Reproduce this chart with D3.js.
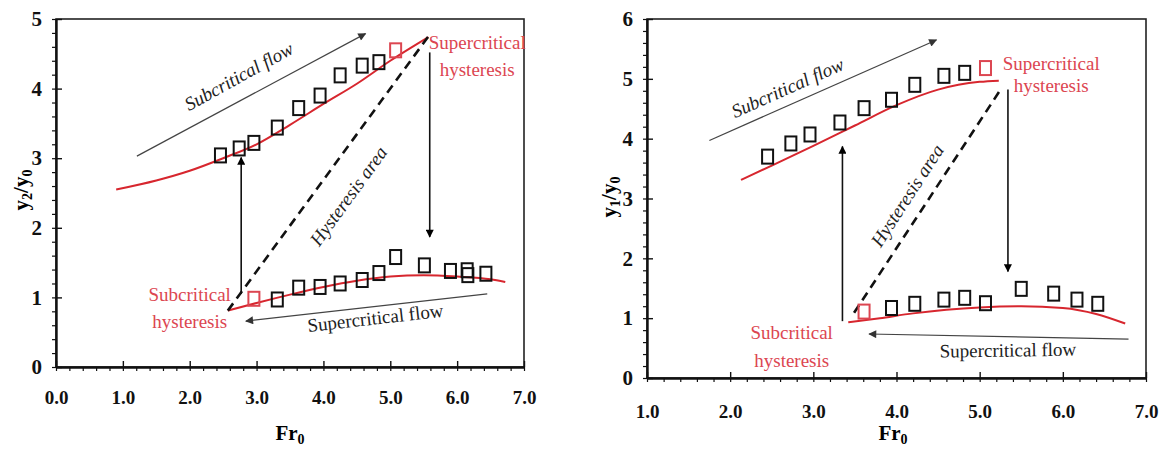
<!DOCTYPE html>
<html>
<head>
<meta charset="utf-8">
<script src="https://cdn.jsdelivr.net/npm/d3@7"></script>
<style>
  body { margin: 0; background: #fff; }
  .axis path, .axis line { stroke: #111; }
</style>
</head>
<body>
<script>
// ------ Data --------------------------------------//
// left panel: y2/y0
var leftUpperFr  = [2.46, 2.74, 2.96, 3.31, 3.63, 3.95, 4.25, 4.58, 4.83];
var leftUpperY   = [3.04, 3.14, 3.22, 3.44, 3.72, 3.90, 4.19, 4.33, 4.38];
var leftUpperRedFr = [5.08], leftUpperRedY = [4.55];
var leftLowerFr  = [3.31, 3.63, 3.95, 4.25, 4.58, 4.83, 5.08, 5.51, 5.90, 6.15, 6.16, 6.43];
var leftLowerY   = [0.97, 1.14, 1.15, 1.20, 1.25, 1.35, 1.58, 1.46, 1.38, 1.39, 1.32, 1.34];
var leftLowerRedFr = [2.96], leftLowerRedY = [0.98];
var leftCurveUpX = [0.9, 1.5, 2.0, 2.5, 3.0, 3.5, 4.0, 4.5, 5.0, 5.57];
var leftCurveUpY = [2.55, 2.68, 2.82, 3.00, 3.20, 3.48, 3.78, 4.07, 4.40, 4.74];
var leftCurveLoX = [2.57, 3.0, 3.5, 4.0, 4.5, 5.0, 5.5, 6.0, 6.5, 6.72];
var leftCurveLoY = [0.81, 0.92, 1.04, 1.15, 1.24, 1.30, 1.32, 1.30, 1.26, 1.22];

// right panel: y1/y0
var rightUpperFr = [2.45, 2.73, 2.96, 3.32, 3.61, 3.94, 4.22, 4.57, 4.82];
var rightUpperY  = [3.70, 3.92, 4.07, 4.27, 4.51, 4.65, 4.90, 5.05, 5.10];
var rightUpperRedFr = [5.07], rightUpperRedY = [5.18];
var rightLowerFr = [3.94, 4.22, 4.57, 4.82, 5.07, 5.50, 5.89, 6.17, 6.42];
var rightLowerY  = [1.17, 1.24, 1.31, 1.34, 1.25, 1.49, 1.41, 1.31, 1.24];
var rightLowerRedFr = [3.61], rightLowerRedY = [1.11];
var rightCurveUpX = [2.13, 2.5, 3.0, 3.5, 4.0, 4.5, 5.0, 5.23];
var rightCurveUpY = [3.31, 3.55, 3.88, 4.22, 4.56, 4.82, 4.95, 4.97];
var rightCurveLoX = [3.42, 3.8, 4.2, 4.6, 5.0, 5.5, 6.0, 6.4, 6.75];
var rightCurveLoY = [0.93, 1.00, 1.08, 1.14, 1.18, 1.20, 1.17, 1.07, 0.91];

var leftXTicks = [0, 1, 2, 3, 4, 5, 6, 7];
var leftYTicks = [0, 1, 2, 3, 4, 5];
var rightXTicks = [1, 2, 3, 4, 5, 6, 7];
var rightYTicks = [0, 1, 2, 3, 4, 5, 6];

// annotation anchors, in data units
var leftNotes = {
  subFlow: [[1.21, 3.03], [4.63, 4.79]],
  up: [[2.77, 1.05], [2.77, 3.01]],
  dash: [[2.57, 0.81], [5.57, 4.75]],
  down: [[5.59, 4.52], [5.59, 1.87]],
  superFlow: [[6.45, 1.05], [2.84, 0.66]],
  subFlowText: [2.75, 4.15, -29],
  areaText: [4.40, 2.44, -54],
  superFlowText: [4.78, 0.675, -6.5],
  superHyst: [6.30, 4.57, 4.18],
  subHyst: [2.0, 0.95, 0.56]
};
var rightNotes = {
  subFlow: [[1.75, 3.97], [4.48, 5.65]],
  up: [[3.35, 0.95], [3.35, 3.87]],
  dash: [[3.49, 1.09], [5.27, 4.86]],
  down: [[5.34, 4.82], [5.34, 1.78]],
  superFlow: [[6.79, 0.65], [3.67, 0.735]],
  subFlowText: [2.70, 4.82, -24],
  areaText: [4.15, 3.03, -57],
  superFlowText: [5.34, 0.43, -0.8],
  superHyst: [5.86, 5.15, 4.78],
  subHyst: [2.74, 0.65, 0.18]
};

var RED = "#d7262e", RED_TEXT = "#dc4651";
var SERIF = "'Liberation Serif', 'Times New Roman', 'DejaVu Serif', serif";

var svg = d3.select("body").append("svg")
  .attr("width", 1159).attr("height", 452)
  .attr("font-family", SERIF);
svg.append("rect").attr("width", 1159).attr("height", 452).attr("fill", "#fff");

var defs = svg.append("defs");
function head(id, color) {
  defs.append("marker").attr("id", id)
    .attr("viewBox", "0 0 10 10").attr("refX", 9).attr("refY", 5)
    .attr("markerWidth", 10).attr("markerHeight", 8)
    .attr("markerUnits", "userSpaceOnUse")
    .attr("orient", "auto")
    .append("path").attr("d", "M0,0L10,5L0,10Z").attr("fill", color);
}
head("hGray", "#333");
head("hBlack", "#000");

function zip(a, b) { return a.map((v, i) => [v, b[i]]); }

function panel(cfg) {
  var x = d3.scaleLinear().domain(cfg.xDomain).range(cfg.xRange);
  var y = d3.scaleLinear().domain(cfg.yDomain).range(cfg.yRange);
  var g = svg.append("g");

  // frame
  g.append("rect")
    .attr("x", cfg.xRange[0]).attr("y", cfg.yRange[1])
    .attr("width", cfg.xRange[1] - cfg.xRange[0])
    .attr("height", cfg.yRange[0] - cfg.yRange[1])
    .attr("fill", "none").attr("stroke", "#222").attr("stroke-width", 1.6);

  // minor ticks
  var xMinor = d3.range(cfg.xDomain[0], cfg.xDomain[1] + 0.001, 0.2);
  var yMinor = d3.range(cfg.yDomain[0], cfg.yDomain[1] + 0.001, 0.2);
  g.append("g").attr("class", "axis")
    .attr("transform", `translate(0,${cfg.yRange[0]})`)
    .call(d3.axisBottom(x).tickValues(xMinor).tickSize(4).tickFormat(""))
    .call(a => a.select(".domain").remove())
    .selectAll("line").attr("stroke-width", 1.2);
  g.append("g").attr("class", "axis")
    .attr("transform", `translate(${cfg.xRange[0]},0)`)
    .call(d3.axisLeft(y).tickValues(yMinor).tickSize(4).tickFormat(""))
    .call(a => a.select(".domain").remove())
    .selectAll("line").attr("stroke-width", 1.2);

  // major axes
  var xa = g.append("g").attr("class", "axis")
    .attr("transform", `translate(0,${cfg.yRange[0]})`)
    .call(d3.axisBottom(x).tickValues(cfg.xTicks).tickSizeInner(-6).tickSizeOuter(0)
      .tickPadding(cfg.xPad).tickFormat(d3.format(".1f")));
  xa.select(".domain").attr("stroke-width", 2.4);
  xa.selectAll(".tick line").attr("stroke-width", 1.4);
  xa.selectAll(".tick text").style("font-size", "19px");

  var ya = g.append("g").attr("class", "axis")
    .attr("transform", `translate(${cfg.xRange[0]},0)`)
    .call(d3.axisLeft(y).tickValues(cfg.yTicks).tickSizeInner(-6).tickSizeOuter(0)
      .tickPadding(14).tickFormat(d3.format("d")));
  ya.select(".domain").attr("stroke-width", 2.4);
  ya.selectAll(".tick line").attr("stroke-width", 1.4);
  ya.selectAll(".tick text").style("font-size", "21px");
  g.selectAll(".axis").attr("font-family", SERIF);
  g.selectAll(".tick text").style("font-weight", "bold").attr("fill", "#111");

  // axis titles
  var xl = g.append("text").attr("x", cfg.xLabel[0]).attr("y", cfg.xLabel[1])
    .attr("text-anchor", "middle").style("font-weight", "bold").style("font-size", "21px");
  xl.append("tspan").text("Fr");
  xl.append("tspan").text("0").attr("dy", 4).style("font-size", "14px");

  var yl = g.append("text")
    .attr("transform", `translate(${cfg.yLabel[0]},${cfg.yLabel[1]}) rotate(-90)`)
    .attr("text-anchor", "middle").style("font-weight", "bold").style("font-size", "21px");
  yl.append("tspan").text("y");
  yl.append("tspan").text(cfg.ySub).attr("dy", 4).style("font-size", "14px");
  yl.append("tspan").text("/y").attr("dy", -4);
  yl.append("tspan").text("0").attr("dy", 4).style("font-size", "14px");

  // fitted curves
  var line = d3.line().x(d => x(d[0])).y(d => y(d[1])).curve(d3.curveMonotoneX);
  [cfg.curveUp, cfg.curveLo].forEach(c => {
    g.append("path").datum(c).attr("d", line)
      .attr("fill", "none").attr("stroke", RED).attr("stroke-width", 2);
  });

  var n = cfg.notes;
  function seg(p) {
    return g.append("line")
      .attr("x1", x(p[0][0])).attr("y1", y(p[0][1]))
      .attr("x2", x(p[1][0])).attr("y2", y(p[1][1]));
  }
  seg(n.subFlow).attr("stroke", "#444").attr("stroke-width", 1.2).attr("marker-end", "url(#hGray)");
  seg(n.superFlow).attr("stroke", "#444").attr("stroke-width", 1.2).attr("marker-end", "url(#hGray)");
  seg(n.up).attr("stroke", "#111").attr("stroke-width", 1.6).attr("marker-end", "url(#hBlack)");
  seg(n.down).attr("stroke", "#111").attr("stroke-width", 1.6).attr("marker-end", "url(#hBlack)");
  seg(n.dash).attr("stroke", "#111").attr("stroke-width", 2.6).attr("stroke-dasharray", "9,6");

  // markers
  function squares(xs, ys, color) {
    g.append("g").selectAll("rect").data(zip(xs, ys)).join("rect")
      .attr("x", d => x(d[0]) - 5.5).attr("y", d => y(d[1]) - 7)
      .attr("width", 11).attr("height", 14)
      .attr("fill", "none").attr("stroke", color).attr("stroke-width", 2);
  }
  squares(cfg.upFr, cfg.upY, "#111");
  squares(cfg.loFr, cfg.loY, "#111");
  squares(cfg.upRedFr, cfg.upRedY, RED_TEXT);
  squares(cfg.loRedFr, cfg.loRedY, RED_TEXT);

  // text annotations
  function rotText(a, label, italic) {
    g.append("text")
      .attr("transform", `translate(${x(a[0])},${y(a[1])}) rotate(${a[2]})`)
      .attr("text-anchor", "middle").attr("dominant-baseline", "middle")
      .style("font-size", "19px").style("font-style", italic ? "italic" : "normal")
      .attr("fill", "#222").text(label);
  }
  rotText(n.subFlowText, "Subcritical flow", true);
  rotText(n.areaText, "Hysteresis  area", true);
  rotText(n.superFlowText, "Supercritical flow", false);

  function redText(a, l1, l2) {
    var t = g.append("g").attr("fill", RED_TEXT).style("font-size", "19px").attr("text-anchor", "middle");
    t.append("text").attr("x", x(a[0])).attr("y", y(a[1])).text(l1);
    t.append("text").attr("x", x(a[0])).attr("y", y(a[2])).text(l2);
  }
  redText(n.superHyst, "Supercritical", "hysteresis");
  redText(n.subHyst, "Subcritical", "hysteresis");
}

panel({
  xDomain: [0, 7], xRange: [56, 524],
  yDomain: [0, 5], yRange: [367, 19],
  xTicks: leftXTicks, yTicks: leftYTicks, xPad: 24,
  xLabel: [290, 440], yLabel: [28, 190], ySub: "2",
  curveUp: zip(leftCurveUpX, leftCurveUpY), curveLo: zip(leftCurveLoX, leftCurveLoY),
  upFr: leftUpperFr, upY: leftUpperY, loFr: leftLowerFr, loY: leftLowerY,
  upRedFr: leftUpperRedFr, upRedY: leftUpperRedY, loRedFr: leftLowerRedFr, loRedY: leftLowerRedY,
  notes: leftNotes
});

panel({
  xDomain: [1, 7], xRange: [647, 1146],
  yDomain: [0, 6], yRange: [378, 19],
  xTicks: rightXTicks, yTicks: rightYTicks, xPad: 27,
  xLabel: [893, 440], yLabel: [616, 197], ySub: "1",
  curveUp: zip(rightCurveUpX, rightCurveUpY), curveLo: zip(rightCurveLoX, rightCurveLoY),
  upFr: rightUpperFr, upY: rightUpperY, loFr: rightLowerFr, loY: rightLowerY,
  upRedFr: rightUpperRedFr, upRedY: rightUpperRedY, loRedFr: rightLowerRedFr, loRedY: rightLowerRedY,
  notes: rightNotes
});
</script>
</body>
</html>
